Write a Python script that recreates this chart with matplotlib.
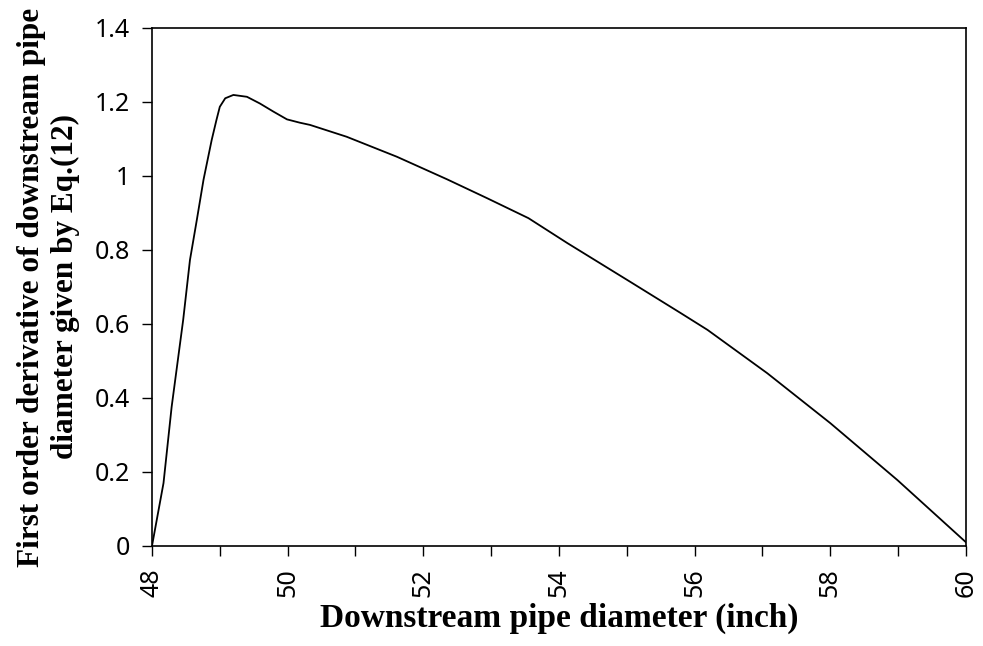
import numpy as np
import matplotlib.pyplot as plt
from matplotlib.ticker import MultipleLocator, FuncFormatter

# ------------------------------------------------------------------ data
diameter = [48.0, 48.17, 48.29, 48.46, 48.56, 48.66, 48.76, 48.88, 48.95,
            49.0, 49.08, 49.2, 49.4, 49.59, 49.79, 49.99, 50.18, 50.33,
            50.87, 51.61, 52.35, 52.94, 53.55, 54.12, 55.05, 55.79, 56.19,
            57.07, 58.0, 58.99, 60.0]
derivative = [0.0, 0.17, 0.376, 0.611, 0.773, 0.88, 0.99, 1.097, 1.151,
              1.187, 1.21, 1.219, 1.214, 1.196, 1.174, 1.153, 1.144, 1.138,
              1.106, 1.052, 0.991, 0.94, 0.886, 0.819, 0.714, 0.63, 0.584,
              0.467, 0.332, 0.178, 0.01]

x_ticks = [48, 50, 52, 54, 56, 58, 60]
y_ticks = [0, 0.2, 0.4, 0.6, 0.8, 1.0, 1.2, 1.4]

# ------------------------------------------------------------------ plot
fig = plt.figure(figsize=(9.83, 6.46), dpi=100)
ax = fig.add_axes([0.1546, 0.1548, 0.8281, 0.8019])

ax.plot(diameter, derivative, color='black', linewidth=1.3,
        solid_joinstyle='round')

ax.set_xlim(48, 60)
ax.set_ylim(0, 1.4)
ax.set_xticks(x_ticks)
ax.xaxis.set_minor_locator(MultipleLocator(1))
ax.set_yticks(y_ticks)
ax.yaxis.set_major_formatter(FuncFormatter(lambda v, p: '%g' % round(v, 1)))

for lab in ax.get_xticklabels():
    lab.set_fontfamily('Noto Sans')
    lab.set_fontsize(18)
    lab.set_rotation(90)
for lab in ax.get_yticklabels():
    lab.set_fontfamily('Noto Sans')
    lab.set_fontsize(18)

ax.tick_params(axis='both', which='both', direction='out', length=7,
               width=1, color='black', pad=9)
for s in ax.spines.values():
    s.set_linewidth(1.2)

label_font = {'family': 'Liberation Serif', 'weight': 'bold'}
ax.set_xlabel('Downstream pipe diameter (inch)', fontdict=label_font,
              fontsize=24, labelpad=4)
ax.set_ylabel('First order derivative of downstream pipe\ndiameter given by Eq.(12)',
              fontdict=label_font, fontsize=22.5, labelpad=10, linespacing=1.25)

fig.savefig('out.png', dpi=100)
